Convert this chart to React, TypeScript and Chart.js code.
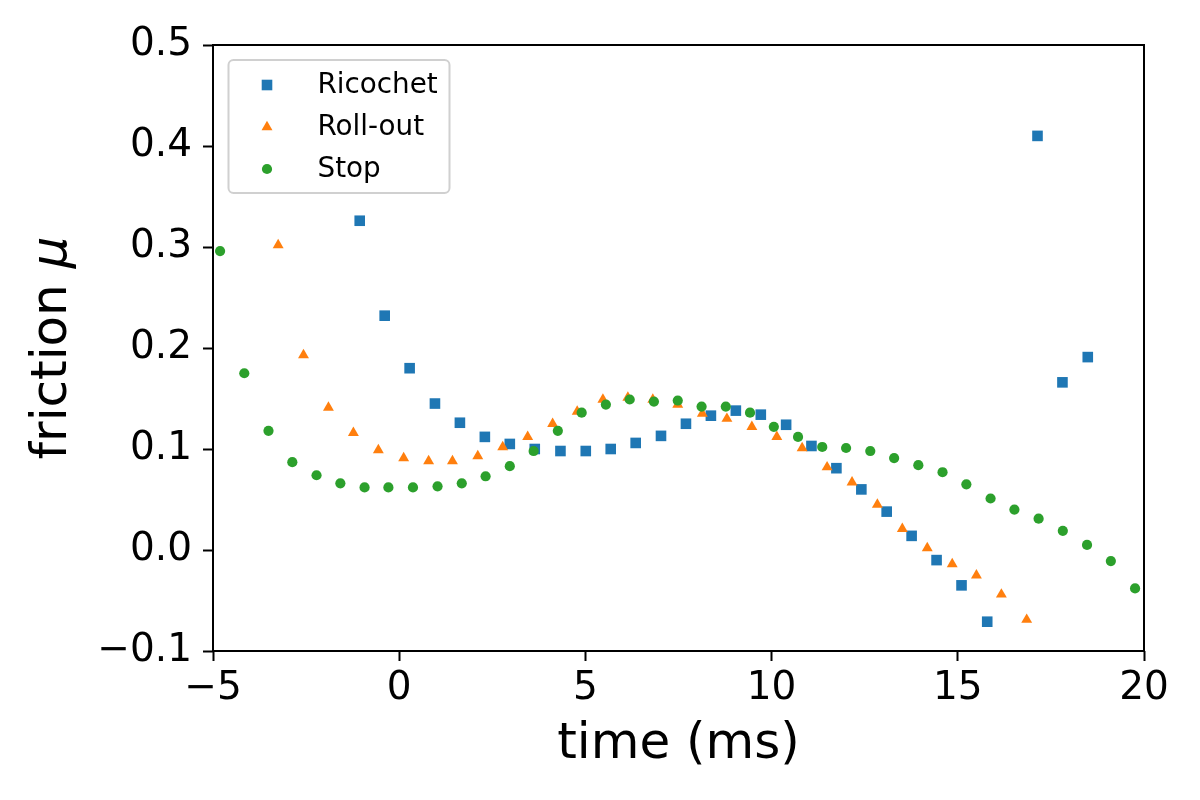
import React, { useEffect, useRef } from 'react';
import { Chart, registerables } from 'chart.js';

Chart.register(...registerables);

const seriesNames = ['Ricochet', 'Roll-out', 'Stop'];
const seriesColors = ['#1f77b4', '#ff7f0e', '#2ca02c'];
const seriesMarkers = ['rect', 'triangle', 'circle'];
const seriesRadius = [7.5, 6.3, 5.1];

const ricochetTime = [-1.06, -0.39, 0.28, 0.96, 1.63, 2.30, 2.97, 3.64, 4.33, 5.01, 5.68, 6.35, 7.03, 7.70, 8.37, 9.04, 9.71, 10.39, 11.07, 11.74, 12.41, 13.09, 13.76, 14.43, 15.10, 15.79, 17.14, 17.81, 18.49];
const ricochetMu = [0.326, 0.232, 0.180, 0.145, 0.126, 0.112, 0.105, 0.100, 0.098, 0.098, 0.100, 0.106, 0.113, 0.125, 0.133, 0.138, 0.134, 0.124, 0.103, 0.081, 0.060, 0.038, 0.014, -0.010, -0.035, -0.071, 0.410, 0.166, 0.191];

const rollTime = [-3.25, -2.57, -1.90, -1.23, -0.56, 0.12, 0.79, 1.43, 2.11, 2.78, 3.45, 4.12, 4.78, 5.47, 6.14, 6.81, 7.48, 8.14, 8.80, 9.47, 10.14, 10.82, 11.49, 12.16, 12.84, 13.51, 14.18, 14.85, 15.50, 16.17, 16.85];
const rollMu = [0.302, 0.193, 0.141, 0.116, 0.099, 0.091, 0.088, 0.088, 0.093, 0.102, 0.112, 0.125, 0.137, 0.149, 0.151, 0.149, 0.144, 0.135, 0.130, 0.122, 0.112, 0.101, 0.082, 0.067, 0.045, 0.021, 0.002, -0.014, -0.025, -0.044, -0.069];

const stopTime = [-4.81, -4.16, -3.51, -2.87, -2.22, -1.58, -0.93, -0.29, 0.37, 1.03, 1.68, 2.32, 2.97, 3.61, 4.26, 4.90, 5.55, 6.19, 6.84, 7.48, 8.12, 8.77, 9.42, 10.06, 10.71, 11.36, 12.00, 12.65, 13.29, 13.94, 14.59, 15.23, 15.88, 16.52, 17.17, 17.82, 18.47, 19.11, 19.76];
const stopMu = [0.296, 0.175, 0.118, 0.087, 0.074, 0.066, 0.062, 0.062, 0.062, 0.063, 0.066, 0.073, 0.083, 0.098, 0.118, 0.136, 0.144, 0.149, 0.147, 0.148, 0.142, 0.142, 0.136, 0.122, 0.112, 0.102, 0.101, 0.098, 0.091, 0.084, 0.077, 0.065, 0.051, 0.040, 0.031, 0.019, 0.005, -0.011, -0.038];

const xMin = -5;
const xMax = 20;
const xStep = 5;
const yMin = -0.1;
const yMax = 0.5;
const yStep = 0.1;
const xTitle = 'time (ms)';
const yTitleText = 'friction ';
const yTitleSymbol = 'μ';

const FONT = "'DejaVu Sans', 'Liberation Sans', sans-serif";

function toPoints(xs: number[], ys: number[]) {
  return xs.map((x, i) => ({ x, y: ys[i] }));
}

function drawMarker(ctx: CanvasRenderingContext2D, kind: string, x: number, y: number, r: number) {
  ctx.beginPath();
  if (kind === 'rect') {
    const s = r * Math.SQRT1_2;
    ctx.rect(x - s, y - s, 2 * s, 2 * s);
  } else if (kind === 'triangle') {
    ctx.moveTo(x, y - r);
    ctx.lineTo(x + Math.sin(2 * Math.PI / 3) * r, y + 0.5 * r);
    ctx.lineTo(x - Math.sin(2 * Math.PI / 3) * r, y + 0.5 * r);
    ctx.closePath();
  } else {
    ctx.arc(x, y, r, 0, Math.PI * 2);
  }
  ctx.fill();
}

const framePlugin = {
  id: 'mplFrameLegend',
  afterDatasetsDraw(chart: any) {
    const ctx: CanvasRenderingContext2D = chart.ctx;
    const ca = chart.chartArea;
    ctx.save();
    // axes frame
    ctx.strokeStyle = '#000';
    ctx.lineWidth = 2;
    ctx.strokeRect(ca.left, ca.top, ca.right - ca.left, ca.bottom - ca.top);

    // legend
    const bx = ca.left + 15.5;
    const by = ca.top + 15;
    const bw = 221;
    const bh = 133;
    const rr = 5;
    ctx.beginPath();
    ctx.moveTo(bx + rr, by);
    ctx.lineTo(bx + bw - rr, by);
    ctx.arcTo(bx + bw, by, bx + bw, by + rr, rr);
    ctx.lineTo(bx + bw, by + bh - rr);
    ctx.arcTo(bx + bw, by + bh, bx + bw - rr, by + bh, rr);
    ctx.lineTo(bx + rr, by + bh);
    ctx.arcTo(bx, by + bh, bx, by + bh - rr, rr);
    ctx.lineTo(bx, by + rr);
    ctx.arcTo(bx, by, bx + rr, by, rr);
    ctx.closePath();
    ctx.fillStyle = 'rgba(255,255,255,0.8)';
    ctx.fill();
    ctx.strokeStyle = '#d0d0d0';
    ctx.lineWidth = 2;
    ctx.stroke();

    const datasets = chart.data.datasets;
    ctx.font = `27.8px ${FONT}`;
    ctx.textBaseline = 'middle';
    ctx.textAlign = 'left';
    datasets.forEach((ds: any, i: number) => {
      const cy = by + 25 + i * 42;
      ctx.fillStyle = ds.backgroundColor;
      drawMarker(ctx, ds.pointStyle, bx + 38.5, cy, ds.pointRadius);
      ctx.fillStyle = '#000';
      ctx.fillText(ds.label, bx + 89, cy + 1);
    });
    ctx.restore();
  },
  afterDraw(chart: any) {
    // y-axis title with italic mu (as in mathtext)
    const ctx: CanvasRenderingContext2D = chart.ctx;
    const ca = chart.chartArea;
    ctx.save();
    const normal = `50px ${FONT}`;
    const italic = `italic 50px ${FONT}`;
    ctx.font = normal;
    const w1 = ctx.measureText(yTitleText).width;
    ctx.font = italic;
    const w2 = ctx.measureText(yTitleSymbol).width;
    const total = w1 + w2;
    const cx = 53;
    const cy = (ca.top + ca.bottom) / 2;
    ctx.translate(cx, cy);
    ctx.rotate(-Math.PI / 2);
    ctx.fillStyle = '#000';
    ctx.textBaseline = 'middle';
    ctx.textAlign = 'left';
    ctx.font = normal;
    ctx.fillText(yTitleText, -total / 2, 0);
    ctx.font = italic;
    ctx.fillText(yTitleSymbol, -total / 2 + w1, 0);
    ctx.restore();
  },
};

export default function App() {
  const canvasRef = useRef<HTMLCanvasElement | null>(null);

  useEffect(() => {
    document.body.style.margin = '0';
    const canvas = canvasRef.current;
    if (!canvas) return;
    const xsList = [ricochetTime, rollTime, stopTime];
    const ysList = [ricochetMu, rollMu, stopMu];
    const chart = new Chart(canvas, {
      type: 'scatter',
      data: {
        datasets: seriesNames.map((name, i) => ({
          label: name,
          data: toPoints(xsList[i], ysList[i]),
          backgroundColor: seriesColors[i],
          borderColor: seriesColors[i],
          pointStyle: seriesMarkers[i],
          pointRadius: seriesRadius[i],
          pointBorderWidth: 0,
          pointHoverRadius: seriesRadius[i],
          order: seriesNames.length - i,
        })),
      },
      options: {
        animation: false,
        responsive: false,
        devicePixelRatio: 1,
        events: [],
        layout: { padding: { left: 0, top: 45, right: 56, bottom: 0 } },
        plugins: {
          legend: { display: false },
          tooltip: { enabled: false },
        },
        scales: {
          x: {
            type: 'linear',
            min: xMin,
            max: xMax,
            afterFit: (scale: any) => { scale.height = 149; },
            border: { display: false },
            grid: {
              drawOnChartArea: false,
              drawTicks: true,
              tickLength: 10,
              tickWidth: 2,
              tickColor: '#000',
              color: '#000',
            },
            ticks: {
              stepSize: xStep,
              padding: 4,
              color: '#000',
              font: { family: FONT, size: 39 },
              maxRotation: 0,
              callback: (v: any) => String(v).replace('-', '\u2212'),
            },
            title: {
              display: true,
              text: xTitle,
              color: '#000',
              font: { family: FONT, size: 50 },
              padding: { top: 0, bottom: 25 },
            },
          },
          y: {
            type: 'linear',
            min: yMin,
            max: yMax,
            afterFit: (scale: any) => { scale.width = 213; },
            border: { display: false },
            grid: {
              drawOnChartArea: false,
              drawTicks: true,
              tickLength: 10,
              tickWidth: 2,
              tickColor: '#000',
              color: '#000',
            },
            ticks: {
              stepSize: yStep,
              padding: 11,
              color: '#000',
              font: { family: FONT, size: 39 },
              callback: (v: any) => {
                const n = Number(v);
                const s = Math.abs(n) < 1e-9 ? '0.0' : n.toFixed(1);
                return s.replace('-', '\u2212');
              },
            },
            title: { display: false },
          },
        },
      },
      plugins: [framePlugin],
    } as any);
    return () => chart.destroy();
  }, []);

  return (
    <div style={{ position: 'fixed', left: 0, top: 0, width: 1200, height: 800, background: '#fff' }}>
      <canvas ref={canvasRef} width={1200} height={800} style={{ display: 'block', width: 1200, height: 800 }} />
    </div>
  );
}
